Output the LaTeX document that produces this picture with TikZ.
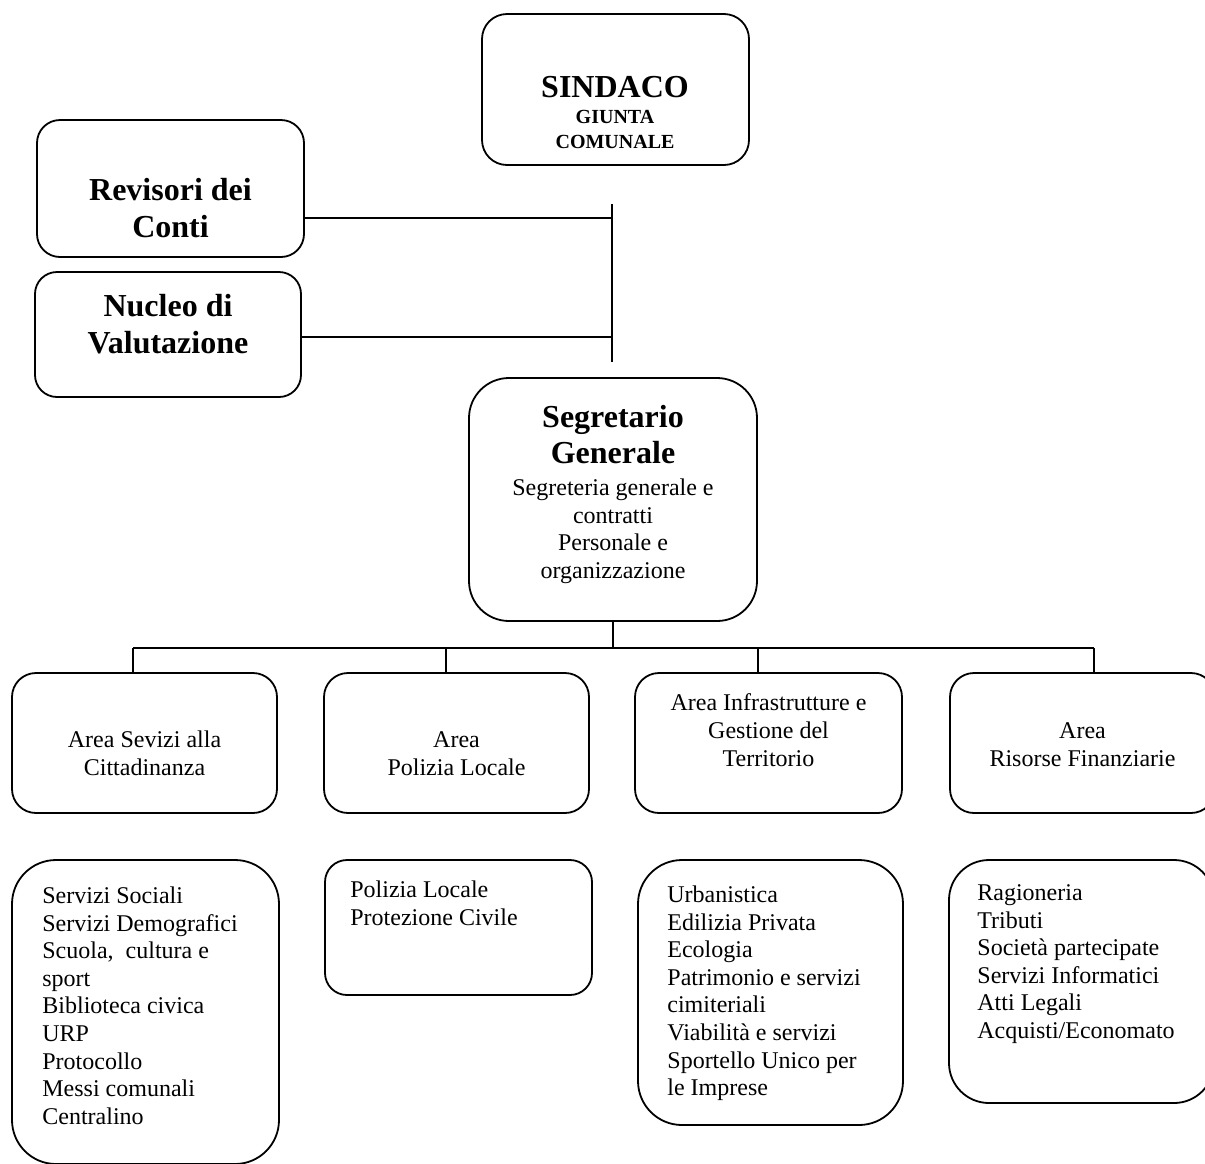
\documentclass[tikz,border=0pt]{standalone}
\usepackage{fontspec}
\setmainfont{Liberation Serif}

\begin{document}
\begin{tikzpicture}[x=0.5pt, y=-0.5pt,
    orgbox/.style={draw, line width=0.9pt, inner sep=0pt},
    areabox/.style={orgbox, rounded corners=12pt, minimum width=132.5pt, minimum height=70pt},
    conn/.style={line width=0.75pt},
    titletxt/.style={inner sep=0pt, align=center, anchor=north, font=\fontsize{16}{18.5}\selectfont\bfseries},
    areatxt/.style={inner sep=0pt, align=center, anchor=north, font=\fontsize{12}{14}\selectfont},
    listtxt/.style={inner sep=0pt, align=left, anchor=north west, font=\fontsize{12}{13.8}\selectfont}]
    \useasboundingbox (0,0) rectangle (1205,1163);
    \clip (0,0) rectangle (1205,1163);

    % Sindaco and staff boxes
    \node[orgbox, rounded corners=12.5pt, minimum width=133.5pt, minimum height=75.5pt] (sindaco) at (615.5,89.5) {};
    \node[inner sep=0pt, anchor=base, font=\fontsize{16}{18}\selectfont\bfseries] (sindaco-t) at (615,97) {SINDACO};
    \node[inner sep=0pt, align=center, anchor=north, font=\fontsize{10}{12.5}\selectfont\bfseries] (giunta-t) at (615,105.5) {\strut GIUNTA\\COMUNALE};

    \node[orgbox, rounded corners=11.5pt, minimum width=133.5pt, minimum height=68.5pt] (revisori) at (170.5,188.5) {};
    \node[titletxt] (revisori-t) at (170.5,174.6) {\strut Revisori dei\\Conti};

    \node[orgbox, rounded corners=11pt, minimum width=133pt, minimum height=62.5pt] (nucleo) at (168,334.5) {};
    \node[titletxt] (nucleo-t) at (168,290.6) {\strut Nucleo di\\Valutazione};

    % Segretario Generale
    \node[orgbox, rounded corners=20pt, minimum width=144pt, minimum height=121.5pt] (segretario) at (613,499.5) {};
    \node[titletxt, font=\fontsize{16}{18}\selectfont\bfseries] (segretario-t) at (613,401.8) {\strut Segretario\\Generale};
    \node[areatxt, font=\fontsize{12}{13.9}\selectfont] (segretario-b) at (613,475.5) {\strut Segreteria generale e\\contratti\\Personale e\\organizzazione};

    % Staff connectors
    \coordinate (vtop) at (612,204);
    \coordinate (vbot) at (612,362);
    \draw[conn] (vtop) -- (vbot);
    \draw[conn] (revisori.east |- 0,218) -- (vtop |- 0,218);
    \draw[conn] (nucleo.east |- 0,337) -- (vtop |- 0,337);

    % Area boxes
    \node[areabox] (area1) at (144.5,743) {};
    \node[areatxt] (area1-t) at (144.5,727.4) {\strut Area Sevizi alla\\Cittadinanza};
    \node[areabox] (area2) at (456.5,743) {};
    \node[areatxt] (area2-t) at (456.5,727.4) {\strut Area\\Polizia Locale};
    \node[areabox, minimum width=133.5pt] (area3) at (768.5,743) {};
    \node[areatxt] (area3-t) at (768.5,690.4) {\strut Area Infrastrutture e\\Gestione del\\Territorio};
    \node[areabox] (area4) at (1082.5,743) {};
    \node[areatxt] (area4-t) at (1082.5,718.4) {\strut Area\\Risorse Finanziarie};

    % Tree connectors
    \coordinate (bus) at (613,648);
    \coordinate (busL) at (133,648);
    \coordinate (busR) at (1094,648);
    \draw[conn] (segretario.south) -- (bus);
    \draw[conn] (busL) -- (busR);
    \foreach \x/\a in {133/area1, 446/area2, 758/area3, 1094/area4}
        \draw[conn] (\x,648) -- (\a.north -| \x,648);

    % Service lists
    \node[orgbox, rounded corners=22pt, minimum width=133.5pt, minimum height=152pt] (list1) at (145.5,1012) {};
    \node[listtxt] (list1-t) at (42,883.7) {\strut Servizi Sociali\\Servizi Demografici\\Scuola,~ cultura e\\sport\\Biblioteca civica\\URP\\Protocollo\\Messi comunali\\Centralino};

    \node[orgbox, rounded corners=11pt, minimum width=133.5pt, minimum height=67.5pt] (list2) at (458.5,927.5) {};
    \node[listtxt] (list2-t) at (350,877.7) {\strut Polizia Locale\\Protezione Civile};

    \node[orgbox, rounded corners=22pt, minimum width=132.5pt, minimum height=132.5pt] (list3) at (770.5,992.5) {};
    \node[listtxt] (list3-t) at (667,882.7) {\strut Urbanistica\\Edilizia Privata\\Ecologia\\Patrimonio e servizi\\cimiteriali\\Viabilità e servizi\\Sportello Unico per\\le Imprese};

    \node[orgbox, rounded corners=20pt, minimum width=132.5pt, minimum height=121.5pt] (list4) at (1081.5,981.5) {};
    \node[listtxt] (list4-t) at (977,880.7) {\strut Ragioneria\\Tributi\\Società partecipate\\Servizi Informatici\\Atti Legali\\Acquisti/Economato};
\end{tikzpicture}
\end{document}
